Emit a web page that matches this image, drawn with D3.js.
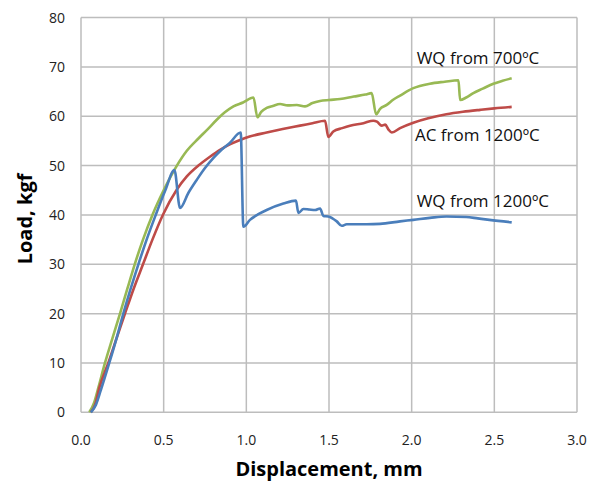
<!DOCTYPE html>
<html lang="en">
<head>
    <meta charset="UTF-8">
    <title>Load vs Displacement</title>
    <script src="https://d3js.org/d3.v7.min.js"></script>
    <style>
        body { margin: 0; background: #fff; font-family: "Open Sans", sans-serif; }
        .grid line { stroke: #bdbdbd; stroke-width: 1.5px; }
        .tick-label { font-size: 14px; fill: #222; }
        .axis-title { font-size: 20px; font-weight: bold; fill: #000; }
        .series { fill: none; stroke-width: 2.6px; stroke-linejoin: round; }
        .series-label { font-size: 17px; fill: #111; }
    </style>
</head>
<body>
    <svg id="chart" width="594" height="485"></svg>

    <script>
        // Tick values
        const xTicks = [0, 0.5, 1.0, 1.5, 2.0, 2.5, 3.0];
        const yTicks = [0, 10, 20, 30, 40, 50, 60, 70, 80];

        // WQ from 700ºC
        const greenX = [0.05, 0.08, 0.105, 0.145, 0.19, 0.236, 0.28, 0.325, 0.375, 0.432, 0.5, 0.58, 0.64, 0.71, 0.77, 0.821, 0.87, 0.922, 0.98, 1.043, 1.067, 1.09, 1.123, 1.16, 1.204, 1.25, 1.305, 1.355, 1.4, 1.446, 1.5, 1.567, 1.65, 1.72, 1.758, 1.785, 1.809, 1.849, 1.89, 1.93, 2.01, 2.11, 2.2, 2.283, 2.293, 2.33, 2.373, 2.43, 2.494, 2.55, 2.605];
        const greenY = [0, 2, 5, 10, 15, 20, 25, 30, 35, 40, 45, 50, 53, 55.5, 57.5, 59.3, 60.8, 62, 62.8, 63.8, 59.8, 60.9, 61.7, 62.1, 62.5, 62.2, 62.3, 62.0, 62.7, 63.1, 63.3, 63.5, 64, 64.4, 64.7, 60.4, 61.5, 62.3, 63.4, 64.2, 65.7, 66.6, 67, 67.3, 63.3, 63.8, 64.7, 65.6, 66.6, 67.2, 67.7];

        // AC from 1200ºC
        const redX = [0.06, 0.085, 0.111, 0.165, 0.215, 0.266, 0.318, 0.375, 0.432, 0.495, 0.579, 0.64, 0.71, 0.78, 0.841, 0.9, 0.962, 1.02, 1.123, 1.22, 1.325, 1.4, 1.476, 1.496, 1.526, 1.58, 1.627, 1.708, 1.768, 1.79, 1.819, 1.84, 1.86, 1.88, 1.93, 2.01, 2.1, 2.21, 2.31, 2.414, 2.5, 2.605];
        const redY = [0, 1.5, 5, 10, 15, 20, 25, 30, 35, 40, 45.1, 47.8, 50, 51.8, 53.2, 54.3, 55.2, 55.9, 56.7, 57.4, 58.1, 58.6, 59.1, 55.8, 56.9, 57.6, 58.1, 58.6, 59.1, 58.9, 58.1, 58.3, 57.3, 56.7, 57.6, 58.7, 59.6, 60.4, 60.9, 61.3, 61.6, 61.9];

        // WQ from 1200ºC
        const blueX = [0.06, 0.09, 0.12, 0.171, 0.215, 0.256, 0.3, 0.347, 0.397, 0.452, 0.51, 0.565, 0.599, 0.65, 0.70, 0.75, 0.80, 0.85, 0.90, 0.966, 0.982, 1.022, 1.07, 1.123, 1.224, 1.30, 1.315, 1.345, 1.38, 1.416, 1.446, 1.466, 1.496, 1.547, 1.577, 1.607, 1.728, 1.809, 1.93, 2.01, 2.11, 2.21, 2.33, 2.4, 2.47, 2.605];
        const blueY = [0, 1.5, 4.5, 10, 15, 20, 25, 30, 35, 40, 45, 49.1, 41.4, 44.5, 47.1, 49.5, 51.5, 53.2, 54.6, 56.7, 37.6, 39.0, 40.1, 41.0, 42.3, 42.9, 40.4, 41.2, 41.1, 41.0, 41.3, 39.8, 39.7, 38.7, 37.8, 38.1, 38.1, 38.2, 38.7, 39.0, 39.4, 39.7, 39.6, 39.3, 39.0, 38.5];

        const seriesNames = ["WQ from 700ºC", "AC from 1200ºC", "WQ from 1200ºC"];
        const seriesColors = ["#98b954", "#be4b48", "#4a7ebb"];
        const labelPos = [[2.03, 70.5], [2.02, 55.0], [2.03, 41.7]];

        const series = [
            greenX.map((x, i) => [x, greenY[i]]),
            redX.map((x, i) => [x, redY[i]]),
            blueX.map((x, i) => [x, blueY[i]])
        ];

        const margin = { top: 17.6, right: 17, bottom: 72.7, left: 81 };
        const width = 594 - margin.left - margin.right;
        const height = 485 - margin.top - margin.bottom;

        const svg = d3.select("#chart")
            .append("g")
            .attr("transform", `translate(${margin.left},${margin.top})`);

        const x = d3.scaleLinear().domain([0, 3]).range([0, width]);
        const y = d3.scaleLinear().domain([0, 80]).range([height, 0]);

        // Gridlines
        const grid = svg.append("g").attr("class", "grid");
        grid.selectAll(".gx").data(xTicks).enter().append("line")
            .attr("x1", d => x(d)).attr("x2", d => x(d))
            .attr("y1", 0).attr("y2", height);
        grid.selectAll(".gy").data(yTicks).enter().append("line")
            .attr("x1", 0).attr("x2", width)
            .attr("y1", d => y(d)).attr("y2", d => y(d));

        // Tick labels
        svg.selectAll(".xl").data(xTicks).enter().append("text")
            .attr("class", "tick-label")
            .attr("x", d => x(d))
            .attr("y", height + 33)
            .attr("text-anchor", "middle")
            .text(d => d.toFixed(1));
        svg.selectAll(".yl").data(yTicks).enter().append("text")
            .attr("class", "tick-label")
            .attr("x", -16)
            .attr("y", d => y(d) + 5)
            .attr("text-anchor", "end")
            .text(d => d);

        // Axis titles
        svg.append("text")
            .attr("class", "axis-title")
            .attr("x", width / 2)
            .attr("y", height + 64)
            .attr("text-anchor", "middle")
            .text("Displacement, mm");
        svg.append("text")
            .attr("class", "axis-title")
            .attr("transform", `translate(-49,${height / 2 + 4}) rotate(-90)`)
            .attr("text-anchor", "middle")
            .text("Load, kgf");

        // Lines
        const line = d3.line()
            .x(d => x(d[0]))
            .y(d => y(d[1]))
            .curve(d3.curveMonotoneX);

        svg.selectAll(".series").data(series).enter().append("path")
            .attr("class", "series")
            .attr("stroke", (d, i) => seriesColors[i])
            .attr("d", line);

        // Series labels
        svg.selectAll(".series-label").data(seriesNames).enter().append("text")
            .attr("class", "series-label")
            .attr("x", (d, i) => x(labelPos[i][0]))
            .attr("y", (d, i) => y(labelPos[i][1]))
            .text(d => d);
    </script>
</body>
</html>
